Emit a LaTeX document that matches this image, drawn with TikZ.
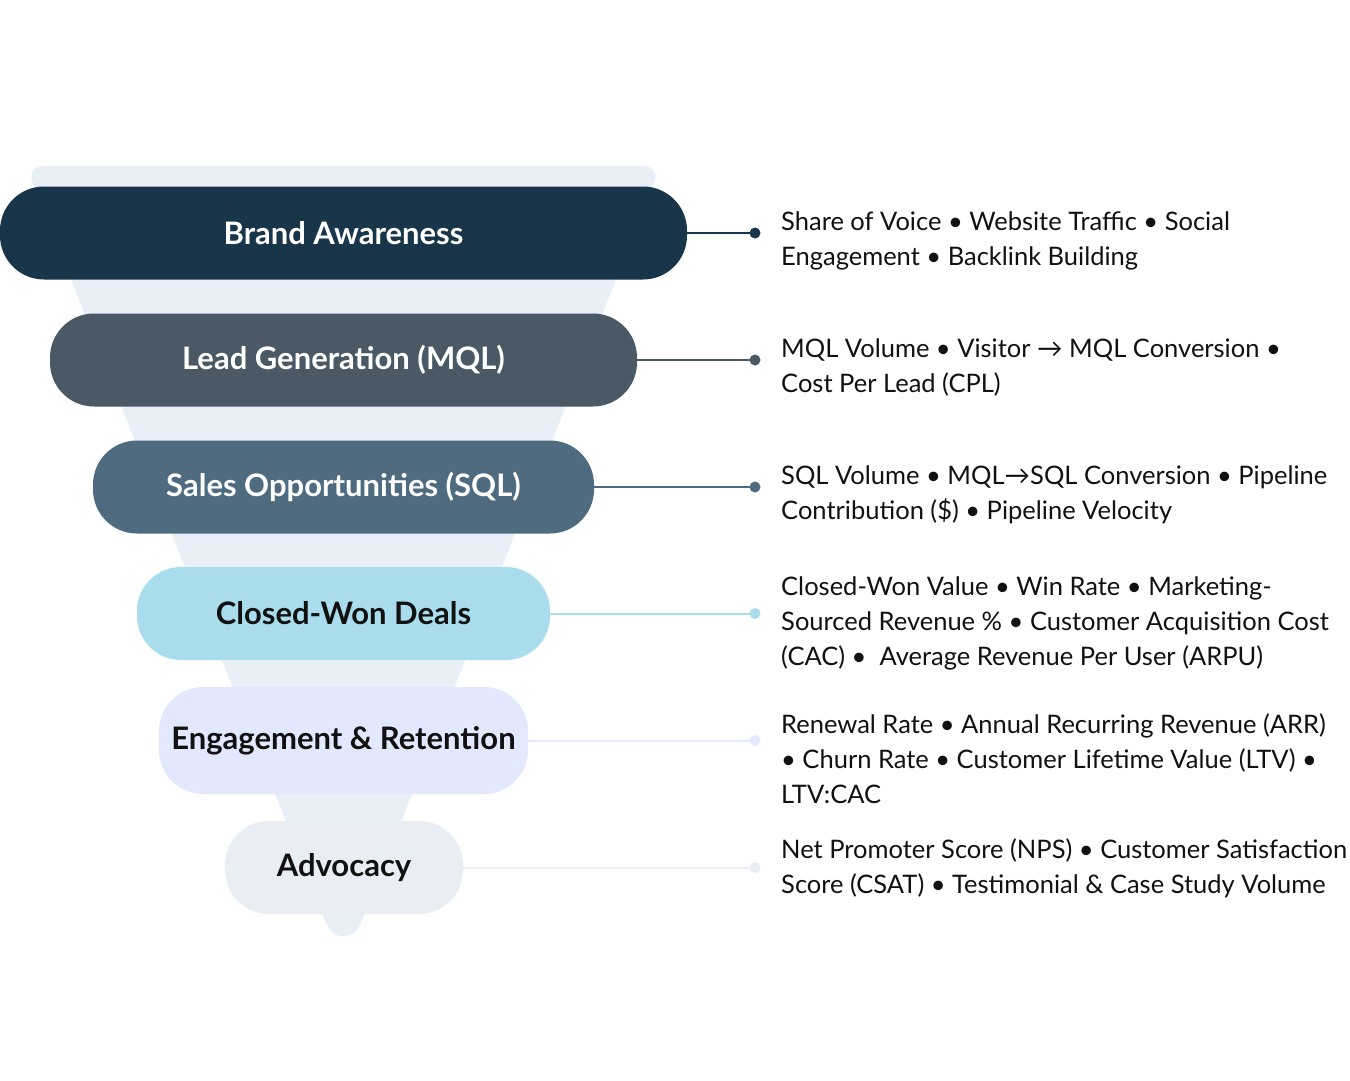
\documentclass[tikz,border=0pt]{standalone}
\usepackage{fontspec}
\setmainfont{Lato}
\definecolor{funnelbg}{HTML}{E8EFF6}
\definecolor{cBrand}{HTML}{18354A}
\definecolor{cLead}{HTML}{4A5964}
\definecolor{cSales}{HTML}{4E6B80}
\definecolor{cClosed}{HTML}{A9DDEE}
\definecolor{cEngage}{HTML}{E2E8FD}
\definecolor{cAdvo}{HTML}{E8EEF4}
\definecolor{txtdark}{HTML}{111111}
\begin{document}
\begin{tikzpicture}[x=1pt,y=-1pt,
  stage/.style={rounded corners=44pt, minimum height=93pt, inner sep=0pt,
    font=\fontsize{31}{36}\selectfont\bfseries},
  metric/.style={anchor=base west, align=left, inner sep=0pt, text=txtdark,
    font=\fontsize{25.5}{35}\selectfont},
  link/.style={line width=2pt},
  dotc/.style={circle, inner sep=0pt, minimum size=11pt}]
\useasboundingbox (0,0) rectangle (1350,1080);
\fill[white] (0,0) rectangle (1350,1080);
% funnel background
\fill[funnelbg, rounded corners=18pt] (26,166) -- (661,166) -- (368,905) -- (319,905) -- cycle;
\fill[funnelbg] (318,900) -- (322.5,914) .. controls (329,933) and (335,936) .. (343.5,936)
  .. controls (352,936) and (358,933) .. (364.5,914) -- (369,900) -- cycle;
% stages
\node[stage, fill=cBrand, text=white, minimum width=687pt] (b1) at (343.5,233) {Brand Awareness};
\node[stage, fill=cLead, text=white, minimum width=587pt] (b2) at (343.5,360) {Lead Generation (MQL)};
\node[stage, fill=cSales, text=white, minimum width=501pt] (b3) at (343.5,487) {Sales Opportunities (SQL)};
\node[stage, fill=cClosed, text=txtdark, minimum width=413pt] (b4) at (343.5,613.5) {Closed-Won Deals};
\node[stage, fill=cEngage, text=txtdark, minimum width=369pt, minimum height=107pt] (b5) at (343.5,740.5) {Engagement \& Retention};
\node[stage, fill=cAdvo, text=txtdark, minimum width=238pt] (b6) at (344,867.5) {Advocacy};
% dots
\node[dotc, fill=cBrand] (d1) at (755,233) {};
\node[dotc, fill=cLead] (d2) at (755,360) {};
\node[dotc, fill=cSales] (d3) at (755,487) {};
\node[dotc, fill=cClosed] (d4) at (755,613.5) {};
\node[dotc, fill=cEngage] (d5) at (755,740.5) {};
\node[dotc, fill=cAdvo] (d6) at (755,867.5) {};
\draw[link, cBrand] (b1.east) -- (d1.center);
\draw[link, cLead] (b2.east) -- (d2.center);
\draw[link, cSales] (b3.east) -- (d3.center);
\draw[link, cClosed] (b4.east) -- (d4.center);
\draw[link, cEngage] (b5.east) -- (d5.center);
\draw[link, cAdvo] (b6.east) -- (d6.center);
% metrics (anchor = baseline of last line)
\node[metric] (m1) at (781,265) {Share of Voice • Website Traffic • Social\\Engagement • Backlink Building};
\node[metric] (m2) at (781,392) {MQL Volume • Visitor → MQL Conversion •\\Cost Per Lead (CPL)};
\node[metric] (m3) at (781,519) {SQL Volume • MQL→SQL Conversion • Pipeline\\Contribution (\$) • Pipeline Velocity};
\node[metric] (m4) at (781,665) {Closed-Won Value • Win Rate • Marketing-\\Sourced Revenue \% • Customer Acquisition Cost\\(CAC) •~~Average Revenue Per User (ARPU)};
\node[metric] (m5) at (781,803) {Renewal Rate • Annual Recurring Revenue (ARR)\\• Churn Rate • Customer Lifetime Value (LTV) •\\LTV:CAC};
\node[metric] (m6) at (781,893) {Net Promoter Score (NPS) • Customer Satisfaction\\Score (CSAT) • Testimonial \& Case Study Volume};
\end{tikzpicture}
\end{document}
